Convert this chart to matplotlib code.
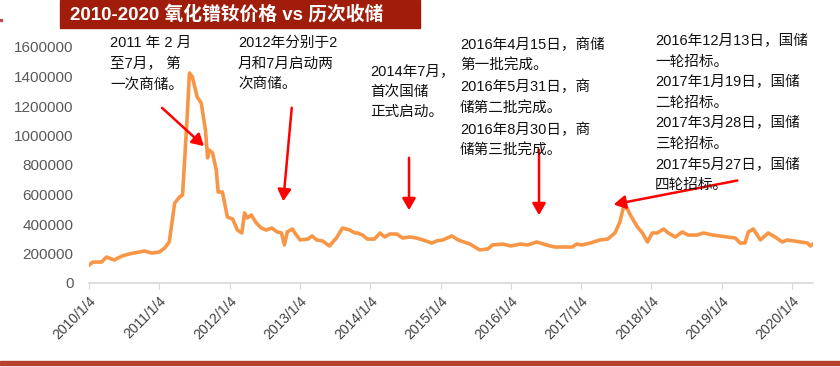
import matplotlib
matplotlib.use("Agg")
import matplotlib.pyplot as plt
import numpy as np
import pandas as pd

plt.rcParams['font.family'] = ['Liberation Sans', 'Noto Sans CJK SC', 'DejaVu Sans']

# price of PrNd oxide (yuan/t)
dates = ["2010-01-04", "2010-01-25", "2010-03-10", "2010-04-05", "2010-05-15", "2010-06-25",
         "2010-08-01", "2010-10-20", "2010-11-25", "2011-01-05", "2011-02-01", "2011-02-25",
         "2011-03-25", "2011-04-20", "2011-05-05", "2011-05-26", "2011-06-10", "2011-06-25",
         "2011-07-20", "2011-08-10", "2011-09-01", "2011-09-12", "2011-09-20", "2011-10-08",
         "2011-10-27", "2011-11-06", "2011-11-28", "2011-12-24", "2012-01-20", "2012-02-14",
         "2012-03-08", "2012-03-22", "2012-04-05", "2012-04-26", "2012-05-22", "2012-06-17",
         "2012-07-13", "2012-08-10", "2012-09-08", "2012-09-30", "2012-10-15", "2012-10-30",
         "2012-11-25", "2012-12-16", "2013-01-05", "2013-02-14", "2013-03-08", "2013-04-01",
         "2013-05-01", "2013-06-06", "2013-07-12", "2013-08-13", "2013-09-20", "2013-10-16",
         "2013-10-30", "2013-11-25", "2013-12-20", "2014-01-26", "2014-02-24", "2014-03-20",
         "2014-04-15", "2014-05-22", "2014-06-21", "2014-07-27", "2014-09-01", "2014-10-04",
         "2014-11-20", "2014-12-15", "2015-01-16", "2015-03-04", "2015-04-05", "2015-06-06",
         "2015-07-27", "2015-09-07", "2015-10-01", "2015-11-23", "2016-01-04", "2016-02-22",
         "2016-04-01", "2016-05-18", "2016-07-26", "2016-08-20", "2016-11-18", "2016-12-12",
         "2017-01-08", "2017-02-20", "2017-04-12", "2017-05-22", "2017-06-28", "2017-07-24",
         "2017-08-10", "2017-08-30", "2017-09-16", "2017-10-23", "2017-11-18", "2017-12-14",
         "2018-01-08", "2018-02-03", "2018-03-08", "2018-04-01", "2018-05-08", "2018-06-13",
         "2018-07-13", "2018-08-28", "2018-09-30", "2018-11-20", "2019-02-02", "2019-03-15",
         "2019-04-10", "2019-05-05", "2019-05-22", "2019-06-17", "2019-07-24", "2019-09-02",
         "2019-10-08", "2019-11-14", "2019-12-10", "2020-02-16", "2020-03-25", "2020-04-08",
         "2020-04-22"]
prices = [122000, 142000, 142000, 176000, 156000, 183000,
          197000, 217000, 203000, 210000, 237000, 278000,
          542000, 583000, 597000, 1058000, 1424000, 1397000,
          1261000, 1220000, 1037000, 848000, 902000, 881000,
          766000, 617000, 617000, 447000, 434000, 359000,
          339000, 475000, 441000, 461000, 407000, 373000,
          359000, 373000, 346000, 339000, 258000, 346000,
          366000, 325000, 292000, 298000, 319000, 292000,
          285000, 251000, 305000, 373000, 359000, 339000,
          339000, 325000, 298000, 298000, 339000, 312000,
          332000, 332000, 305000, 312000, 305000, 292000,
          271000, 285000, 292000, 319000, 292000, 264000,
          224000, 231000, 258000, 264000, 251000, 264000,
          258000, 278000, 251000, 244000, 244000, 264000,
          258000, 271000, 292000, 298000, 339000, 414000,
          508000, 508000, 461000, 380000, 339000, 278000,
          339000, 339000, 366000, 339000, 312000, 346000,
          325000, 325000, 339000, 325000, 312000, 305000,
          271000, 271000, 346000, 366000, 292000, 339000,
          312000, 278000, 292000, 278000, 271000, 251000,
          264000]

yticks = [0, 200000, 400000, 600000, 800000, 1000000, 1200000, 1400000, 1600000]
xtick_dates = ["2010-01-04", "2011-01-04", "2012-01-04", "2013-01-04", "2014-01-04", "2015-01-04",
               "2016-01-04", "2017-01-04", "2018-01-04", "2019-01-04", "2020-01-04"]
xtick_labels = ["2010/1/4", "2011/1/4", "2012/1/4", "2013/1/4", "2014/1/4", "2015/1/4",
                "2016/1/4", "2017/1/4", "2018/1/4", "2019/1/4", "2020/1/4"]

title = "2010-2020 氧化镨钕价格 vs 历次收储"
notes = [
    "2011 年 2 月\n至7月， 第\n一次商储。",
    "2012年分别于2\n月和7月启动两\n次商储。",
    "2014年7月，\n首次国储\n正式启动。",
    "2016年4月15日，商储\n第一批完成。\n2016年5月31日，商\n储第二批完成。\n2016年8月30日，商\n储第三批完成。",
    "2016年12月13日，国储\n一轮招标。\n2017年1月19日，国储\n二轮招标。\n2017年3月28日，国储\n三轮招标。\n2017年5月27日，国储\n四轮招标。",
]

W, H = 840, 367
fig = plt.figure(figsize=(W / 100, H / 100), dpi=100)

def fx(px):
    return px / W

def fy(py):
    return 1 - py / H

ax = fig.add_axes([fx(89), fy(283), fx(813) - fx(89), fy(47) - fy(283)])
d = pd.to_datetime(dates)
ax.plot(d, prices, color="#F79646", lw=2.6, solid_joinstyle="round")
ax.set_xlim(pd.Timestamp(dates[0]), pd.Timestamp(dates[-1]))
ax.set_ylim(0, 1600000)
ax.set_yticks(yticks)
ax.set_yticklabels([str(v) for v in yticks], color="#595959", fontsize=11)
ax.set_xticks(pd.to_datetime(xtick_dates))
ax.set_xticklabels(xtick_labels, rotation=45, ha="right", rotation_mode="anchor",
                   color="#404040", fontsize=10)
ax.tick_params(axis="y", length=0, pad=11)
ax.tick_params(axis="x", length=4, color="#D9D9D9", pad=4)
for s in ["top", "right", "left"]:
    ax.spines[s].set_visible(False)
ax.spines["bottom"].set_color("#D9D9D9")
ax.spines["bottom"].set_linewidth(1.2)

# title bar
fig.patches.append(plt.Rectangle((fx(60), fy(28)), fx(420) - fx(60), fy(0) - fy(28),
                                 transform=fig.transFigure, color="#A11D0B", zorder=0))
fig.text(fx(70), fy(14), title, color="white", fontsize=13.5, fontweight="bold",
         va="center", ha="left")
fig.patches.append(plt.Rectangle((0, fy(365)), 1, fy(361) - fy(365),
                                 transform=fig.transFigure, color="#B5412E", zorder=0))
fig.patches.append(plt.Rectangle((0, fy(21)), fx(2), fy(19) - fy(21),
                                 transform=fig.transFigure, color="#C0504D", zorder=0))

# annotations
note_pos = [(110, 36), (238, 36), (370, 64), (460, 38), (655, 34)]
for txt, (px, py) in zip(notes, note_pos):
    fig.text(fx(px), fy(py), txt, fontsize=10.5, va="top", ha="left", color="#111111",
             linespacing=1.6)

arrows = [((160, 106), (206, 148)), ((292, 105), (283, 204)), ((409, 155), (409, 213)),
          ((539, 147), (539, 218)), ((740, 180), (611, 205))]
for (x0, y0), (x1, y1) in arrows:
    fig.patches.append(matplotlib.patches.FancyArrowPatch(
        (fx(x0), fy(y0)), (fx(x1), fy(y1)), transform=fig.transFigure,
        arrowstyle="-|>,head_length=7,head_width=4", color="#FF0000", lw=1.8))

fig.savefig("out.png", dpi=100)
